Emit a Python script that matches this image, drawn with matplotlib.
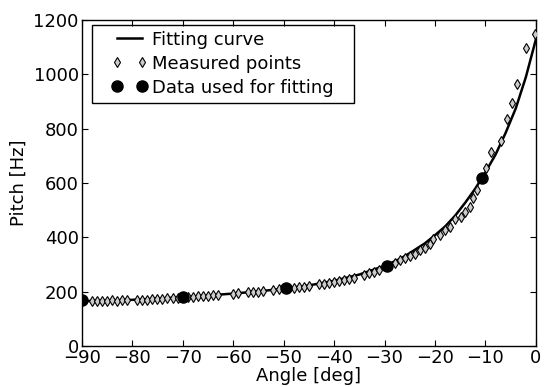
import matplotlib
matplotlib.use("Agg")
import matplotlib.pyplot as plt
from matplotlib.patches import Rectangle
from matplotlib.legend_handler import HandlerLine2D

# Fitting curve
curve_angle = [-90, -85, -80, -75, -70, -65, -60, -55, -50, -45, -40, -35, -30, -27,
               -25, -22, -20, -18, -16, -14, -12, -10, -8, -6, -4, -2, 0]
curve_pitch = [165, 167, 170, 174, 180, 186, 193, 201, 211, 223, 240, 263, 295, 320,
               342, 378, 408, 440, 480, 528, 580, 640, 705, 785, 875, 990, 1130]

# Measured points
meas_angle = [-88, -87, -86, -85, -84, -83, -82, -81,
              -79, -78, -77, -76, -75, -74, -73, -72, -71,
              -69, -68, -67, -66, -65, -64, -63,
              -60, -59, -57, -56, -55, -54, -52, -51,
              -48, -47, -46, -45, -43, -42, -41, -40, -39, -38, -37, -36,
              -34, -33, -32, -31, -28, -27, -26, -25, -24, -23, -22, -21,
              -20.4, -19, -18, -17, -16, -14.9, -14.1, -13.1, -12.5, -11.7,
              -9.9, -8.9, -6.9, -5.7, -4.8, -3.8, -2, -0.2]
meas_pitch = [166, 167, 166, 167, 168, 167, 168, 169,
              170, 171, 171, 172, 173, 174, 175, 176, 177,
              181, 182, 183, 184, 185, 186, 188,
              193, 194, 197, 199, 200, 202, 206, 208,
              214, 216, 219, 221, 227, 230, 233, 237, 240, 244, 248, 252,
              262, 268, 274, 280, 307, 315, 324, 333, 340, 352, 362, 375,
              395, 410, 427, 438, 467, 475, 493, 512, 545, 574,
              655, 714, 754, 835, 894, 964, 1097, 1148]

# Data used for fitting
fit_angle = [-90, -70, -49.5, -29.6, -10.7]
fit_pitch = [168, 180, 212, 296, 618]

W, H = 548, 387
fig = plt.figure(figsize=(W / 100, H / 100), dpi=100)
ax = fig.add_axes([0.149, 0.106, 0.829, 0.842])

l1, = ax.plot(curve_angle, curve_pitch, color='black', lw=1.8, label='Fitting curve', zorder=2)
l2, = ax.plot(meas_angle, meas_pitch, linestyle='none', marker='d', ms=5.5,
              mfc='0.8', mec='black', mew=0.8, label='Measured points', zorder=3)
l3, = ax.plot(fit_angle, fit_pitch, linestyle='none', marker='o', ms=8,
              mfc='black', mec='black', label='Data used for fitting', zorder=4)

ax.set_xlim(-90, 0)
ax.set_ylim(0, 1200)
ax.set_xticks(range(-90, 1, 10))
ax.set_yticks(range(0, 1201, 200))
ax.tick_params(direction='in', top=True, right=True, labelsize=13, length=4, pad=2)
ax.set_xlabel('Angle [deg]', fontsize=13, labelpad=0)
ax.set_ylabel('Pitch [Hz]', fontsize=13, labelpad=4)
for s in ax.spines.values():
    s.set_linewidth(1.0)

hm = {h: HandlerLine2D(marker_pad=0.0) for h in (l1, l2, l3)}
leg = ax.legend(loc='upper left', numpoints=2, fontsize=13, frameon=False,
                borderpad=0.25, labelspacing=0.34, handletextpad=0.55,
                handlelength=1.4, borderaxespad=0.0, handler_map=hm,
                bbox_to_anchor=(112 / W, 1 - 26 / H), bbox_transform=fig.transFigure)

# legend frame (wider horizontal padding than vertical, as in the original)
fig.patches.append(Rectangle((91.7 / W, 1 - 103 / H), (354 - 91.7) / W, (103 - 25) / H,
                             transform=fig.transFigure, fill=False,
                             edgecolor='black', lw=1.0, zorder=5))

fig.savefig('out.png', dpi=100)
